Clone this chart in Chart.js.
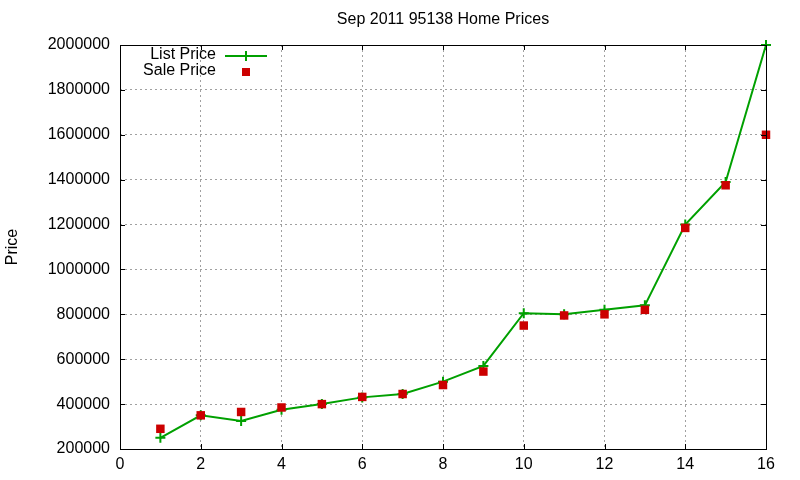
<!DOCTYPE html>
<html>
<head>
<meta charset="utf-8">
<script src="https://cdn.jsdelivr.net/npm/chart.js@4/dist/chart.umd.min.js"></script>
<style>
  body { margin: 0; background: #fff; }
  canvas { display: block; }
</style>
</head>
<body>
<canvas id="priceChart" width="800" height="480"></canvas>
<script>
// values
var homeIndex = [1, 2, 3, 4, 5, 6, 7, 8, 9, 10, 11, 12, 13, 14, 15, 16]
var listPrices = [250000, 350000, 325000, 375000, 400000, 430000, 445000, 500000, 570000, 805000, 800000, 820000, 840000, 1200000, 1390000, 2000000]
var salePrices = [290000, 350000, 365000, 385000, 400000, 432000, 445000, 485000, 545000, 750000, 795000, 800000, 820000, 1185000, 1375000, 1600000]
var xTicks = [0, 2, 4, 6, 8, 10, 12, 14, 16]
var yTicks = [200000, 400000, 600000, 800000, 1000000, 1200000, 1400000, 1600000, 1800000, 2000000]
var chartTitle = 'Sep 2011 95138 Home Prices'

var fontName = "'Liberation Sans', Arial, sans-serif"
var green = '#00a000'
var red = '#cc0000'

function toPoints(xs, ys) {
    return xs.map((x, i) => ({ x: x, y: ys[i] }));
}

// box, inward ticks, title and the key, like gnuplot draws them
var framePlugin = {
    id: 'frame',
    afterDraw(chart) {
        var ctx = chart.ctx
        var a = chart.chartArea
        var xs = chart.scales.x
        var ys = chart.scales.y
        ctx.save()
        ctx.strokeStyle = '#000'
        ctx.lineWidth = 1
        ctx.strokeRect(a.left + 0.5, a.top + 0.5, a.right - a.left, a.bottom - a.top)
        ctx.beginPath()
        xTicks.forEach((t) => {
            var px = Math.round(xs.getPixelForValue(t)) + 0.5
            ctx.moveTo(px, a.bottom); ctx.lineTo(px, a.bottom - 5)
            ctx.moveTo(px, a.top); ctx.lineTo(px, a.top + 5)
        })
        yTicks.forEach((t) => {
            var py = Math.round(ys.getPixelForValue(t)) + 0.5
            ctx.moveTo(a.left, py); ctx.lineTo(a.left + 5, py)
            ctx.moveTo(a.right, py); ctx.lineTo(a.right - 5, py)
        })
        ctx.stroke()

        ctx.font = '16px ' + fontName
        ctx.fillStyle = '#000'
        ctx.textAlign = 'center'
        ctx.textBaseline = 'middle'
        ctx.fillText(chartTitle, (a.left + a.right) / 2, 20)

        // key
        var sets = chart.data.datasets
        ctx.textAlign = 'right'
        ctx.fillText(sets[1].label, 216, 55)
        ctx.fillText(sets[0].label, 216, 71)
        ctx.strokeStyle = green
        ctx.lineWidth = 2
        ctx.beginPath()
        ctx.moveTo(225, 56); ctx.lineTo(267, 56)
        ctx.moveTo(246, 51); ctx.lineTo(246, 61)
        ctx.stroke()
        ctx.fillStyle = red
        ctx.fillRect(242, 68, 8, 8)
        ctx.restore()
    }
}

var ctx = document.getElementById('priceChart').getContext('2d')
var priceChart = new Chart(ctx, {
    type: 'scatter',
    data: {
        datasets: [
            {
                label: 'Sale Price',
                data: toPoints(homeIndex, salePrices),
                showLine: false,
                pointStyle: 'rect',
                pointRadius: 6,
                pointBorderWidth: 0,
                backgroundColor: red,
                borderColor: red,
                clip: false,
                order: 0
            },
            {
                label: 'List Price',
                data: toPoints(homeIndex, listPrices),
                showLine: true,
                borderColor: green,
                backgroundColor: green,
                borderWidth: 2,
                pointStyle: 'cross',
                pointRadius: 5,
                pointBorderWidth: 2,
                clip: false,
                order: 1
            }
        ]
    },
    options: {
        responsive: false,
        animation: false,
        devicePixelRatio: 1,
        layout: { padding: { left: 0, right: 34, top: 45, bottom: 0 } },
        plugins: {
            legend: { display: false },
            tooltip: { enabled: false },
            title: { display: false }
        },
        scales: {
            x: {
                type: 'linear',
                min: 0,
                max: 16,
                afterBuildTicks: (scale) => { scale.ticks = xTicks.map((v) => ({ value: v })) },
                afterFit: (scale) => { scale.height = 31 },
                ticks: {
                    color: '#000',
                    padding: 6,
                    maxRotation: 0,
                    font: { family: fontName, size: 16 }
                },
                grid: {
                    color: '#a0a0a0',
                    drawTicks: false
                },
                border: { display: false, dash: [2, 3] }
            },
            y: {
                type: 'linear',
                min: 200000,
                max: 2000000,
                afterBuildTicks: (scale) => { scale.ticks = yTicks.map((v) => ({ value: v })) },
                afterFit: (scale) => { scale.width = 120 },
                ticks: {
                    color: '#000',
                    padding: 10,
                    font: { family: fontName, size: 16 },
                    callback: (v) => String(v)
                },
                grid: {
                    color: '#a0a0a0',
                    drawTicks: false
                },
                border: { display: false, dash: [2, 3] },
                title: {
                    display: true,
                    text: 'Price',
                    color: '#000',
                    font: { family: fontName, size: 16 },
                    padding: { top: 3, bottom: 0 }
                }
            }
        }
    },
    plugins: [framePlugin]
})
</script>
</body>
</html>
